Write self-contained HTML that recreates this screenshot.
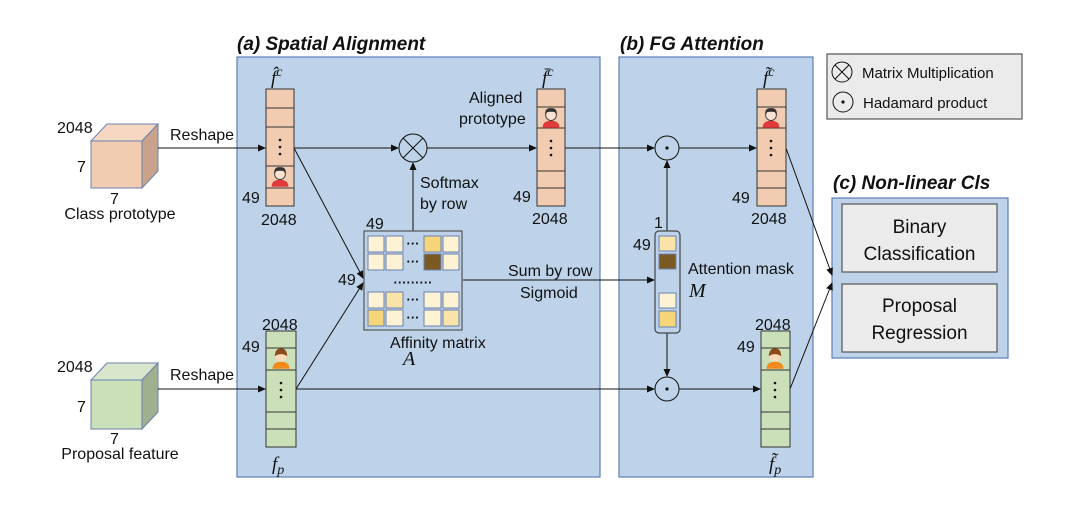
<!DOCTYPE html>
<html><head><meta charset="utf-8"><style>
html,body{margin:0;padding:0;background:#fff;}
svg{display:block;}
text{font-family:"Liberation Sans",sans-serif;fill:#111;}
.m{font-family:"Liberation Serif",serif;font-style:italic;}
</style></head><body>
<svg width="1080" height="516" viewBox="0 0 1080 516" xmlns="http://www.w3.org/2000/svg">
<defs>
<marker id="ar" markerWidth="8" markerHeight="8" refX="7" refY="4" orient="auto" markerUnits="userSpaceOnUse"><path d="M0,0.5 L8,4 L0,7.5 z" fill="#111"/></marker>
<g id="man"><path d="M-6,7 Q-6,2 0,2 Q6,2 6,7z" fill="#e03a3a"/><circle cx="0" cy="-2" r="3.8" fill="#fbe3d3" stroke="#333" stroke-width="0.8"/><path d="M-4.2,-2 Q-4.5,-7.5 0,-7 Q4.5,-7.5 4.2,-2 L3.5,-4 Q0,-5 -3.5,-4z" fill="#333"/></g>
<g id="boy"><path d="M-6,7 Q-6,2 0,2 Q6,2 6,7z" fill="#f08a1c"/><circle cx="0" cy="-2" r="4" fill="#fcd9b8"/><path d="M-4.5,-2 Q-4,-8 0,-7.5 Q4,-8 4.5,-2 Q0,-5 -4.5,-2z" fill="#8b4a1c"/></g>
</defs>

<rect x="237" y="57" width="363" height="420" fill="#bed3e9" stroke="#5b7fb5" stroke-width="1.2"/>
<rect x="619" y="57" width="194" height="420" fill="#bed3e9" stroke="#5b7fb5" stroke-width="1.2"/>
<text x="237" y="50" font-size="19" font-weight="bold" font-style="italic">(a) Spatial Alignment</text>
<text x="620" y="50" font-size="19" font-weight="bold" font-style="italic">(b) FG  Attention</text>

<rect x="827" y="54" width="195" height="65" fill="#ebebeb" stroke="#555" stroke-width="1.2"/>
<circle cx="842" cy="72" r="10" fill="none" stroke="#111" stroke-width="1"/>
<path d="M835,65 L849,79 M849,65 L835,79" stroke="#111" stroke-width="1"/>
<text x="862" y="78" font-size="15">Matrix Multiplication</text>
<circle cx="843" cy="102" r="10" fill="none" stroke="#111" stroke-width="1"/>
<circle cx="843" cy="102" r="1.6" fill="#111"/>
<text x="863" y="108" font-size="15">Hadamard product</text>

<text x="833" y="189" font-size="19" font-weight="bold" font-style="italic">(c) Non-linear Cls</text>
<rect x="832" y="198" width="176" height="160" fill="#bed3e9" stroke="#5b7fb5" stroke-width="1.2"/>
<rect x="842" y="204" width="155" height="68" fill="#ebebeb" stroke="#555" stroke-width="1.2"/>
<text x="919.5" y="233" font-size="19" text-anchor="middle">Binary</text>
<text x="919.5" y="260" font-size="19" text-anchor="middle">Classification</text>
<rect x="842" y="284" width="155" height="68" fill="#ebebeb" stroke="#555" stroke-width="1.2"/>
<text x="919.5" y="312" font-size="19" text-anchor="middle">Proposal</text>
<text x="919.5" y="339" font-size="19" text-anchor="middle">Regression</text>

<g stroke="#6b82b0" stroke-width="1">
<polygon points="91,141 107,124 158,124 142,141" fill="#f6d7c2"/>
<polygon points="142,141 158,124 158,171 142,188" fill="#c8a28a"/>
<rect x="91" y="141" width="51" height="47" fill="#f2ccb0"/>
<polygon points="91,380 107,363 158,363 142,380" fill="#d8e6cc"/>
<polygon points="142,380 158,363 158,412 142,429" fill="#9fb08e"/>
<rect x="91" y="380" width="51" height="49" fill="#cbdfb8"/>
</g>
<g font-size="16">
<text x="57" y="133">2048</text>
<text x="77" y="172">7</text>
<text x="110" y="204">7</text>
<text x="120" y="219" text-anchor="middle">Class prototype</text>
<text x="57" y="372">2048</text>
<text x="77" y="412">7</text>
<text x="110" y="444">7</text>
<text x="120" y="459" text-anchor="middle">Proposal feature</text>
<text x="170" y="140">Reshape</text>
<text x="170" y="380">Reshape</text>
</g>

<g stroke="#111" stroke-width="1" fill="none">
<line x1="158" y1="148" x2="265" y2="148" marker-end="url(#ar)"/>
<line x1="158" y1="389" x2="265" y2="389" marker-end="url(#ar)"/>
<line x1="294" y1="148" x2="398" y2="148" marker-end="url(#ar)"/>
<line x1="427" y1="148" x2="536" y2="148" marker-end="url(#ar)"/>
<line x1="413" y1="231" x2="413" y2="163" marker-end="url(#ar)"/>
<line x1="565" y1="148" x2="654" y2="148" marker-end="url(#ar)"/>
<line x1="679" y1="148" x2="756" y2="148" marker-end="url(#ar)"/>
<line x1="294" y1="148" x2="363" y2="278" marker-end="url(#ar)"/>
<line x1="296" y1="389" x2="363" y2="283" marker-end="url(#ar)"/>
<line x1="296" y1="389" x2="654" y2="389" marker-end="url(#ar)"/>
<line x1="679" y1="389" x2="760" y2="389" marker-end="url(#ar)"/>
<line x1="463" y1="280" x2="654" y2="280" marker-end="url(#ar)"/>
<line x1="667" y1="231" x2="667" y2="161" marker-end="url(#ar)"/>
<line x1="667" y1="333" x2="667" y2="376" marker-end="url(#ar)"/>
<line x1="786" y1="148" x2="832" y2="275" marker-end="url(#ar)"/>
<line x1="790" y1="389" x2="832" y2="283" marker-end="url(#ar)"/>
</g>

<circle cx="413" cy="148" r="14" fill="#bed3e9" stroke="#111" stroke-width="1"/>
<path d="M403,138 L423,158 M423,138 L403,158" stroke="#111" stroke-width="1"/>
<circle cx="667" cy="148" r="12" fill="#bed3e9" stroke="#111" stroke-width="1"/>
<circle cx="667" cy="148" r="1.6" fill="#111"/>
<circle cx="667" cy="389" r="12" fill="#bed3e9" stroke="#111" stroke-width="1"/>
<circle cx="667" cy="389" r="1.6" fill="#111"/>

<g stroke="#333" stroke-width="1">
<rect x="266" y="89" width="28" height="117" fill="#f2ccb0"/>
<path d="M266,108H294M266,127H294M266,166H294M266,188H294"/>
<rect x="537" y="89" width="28" height="117" fill="#f2ccb0"/>
<path d="M537,107H565M537,128H565M537,171H565M537,188H565"/>
<rect x="757" y="89" width="29" height="117" fill="#f2ccb0"/>
<path d="M757,107H786M757,128H786M757,171H786M757,188H786"/>
<rect x="266" y="331" width="30" height="116" fill="#cbdfb8"/>
<path d="M266,348H296M266,370H296M266,412H296M266,429H296"/>
<rect x="761" y="331" width="29" height="116" fill="#cbdfb8"/>
<path d="M761,348H790M761,370H790M761,412H790M761,429H790"/>
</g>
<g transform="translate(280,177) scale(1.4)"><path d="M-6,7 Q-6,2 0,2 Q6,2 6,7z" fill="#e03a3a"/><circle cx="0" cy="-2" r="3.8" fill="#fbe3d3" stroke="#333" stroke-width="0.6"/><path d="M-4.2,-2 Q-4.5,-7.5 0,-7 Q4.5,-7.5 4.2,-2 L3.5,-4 Q0,-5 -3.5,-4z" fill="#333"/></g>
<g transform="translate(551,118) scale(1.4)"><path d="M-6,7 Q-6,2 0,2 Q6,2 6,7z" fill="#e03a3a"/><circle cx="0" cy="-2" r="3.8" fill="#fbe3d3" stroke="#333" stroke-width="0.6"/><path d="M-4.2,-2 Q-4.5,-7.5 0,-7 Q4.5,-7.5 4.2,-2 L3.5,-4 Q0,-5 -3.5,-4z" fill="#333"/></g>
<g transform="translate(771,118) scale(1.4)"><path d="M-6,7 Q-6,2 0,2 Q6,2 6,7z" fill="#e03a3a"/><circle cx="0" cy="-2" r="3.8" fill="#fbe3d3" stroke="#333" stroke-width="0.6"/><path d="M-4.2,-2 Q-4.5,-7.5 0,-7 Q4.5,-7.5 4.2,-2 L3.5,-4 Q0,-5 -3.5,-4z" fill="#333"/></g>
<g transform="translate(281,359) scale(1.4)"><path d="M-6,7 Q-6,2 0,2 Q6,2 6,7z" fill="#f08a1c"/><circle cx="0" cy="-2" r="4" fill="#fcd9b8"/><path d="M-4.5,-2 Q-4,-8 0,-7.5 Q4,-8 4.5,-2 Q0,-5 -4.5,-2z" fill="#8b4a1c"/></g>
<g transform="translate(775,359) scale(1.4)"><path d="M-6,7 Q-6,2 0,2 Q6,2 6,7z" fill="#f08a1c"/><circle cx="0" cy="-2" r="4" fill="#fcd9b8"/><path d="M-4.5,-2 Q-4,-8 0,-7.5 Q4,-8 4.5,-2 Q0,-5 -4.5,-2z" fill="#8b4a1c"/></g>
<g fill="#111">
<circle cx="280" cy="140" r="1.3"/><circle cx="280" cy="147" r="1.3"/><circle cx="280" cy="154" r="1.3"/>
<circle cx="551" cy="141" r="1.3"/><circle cx="551" cy="148" r="1.3"/><circle cx="551" cy="155" r="1.3"/>
<circle cx="771" cy="141" r="1.3"/><circle cx="771" cy="148" r="1.3"/><circle cx="771" cy="155" r="1.3"/>
<circle cx="281" cy="383" r="1.3"/><circle cx="281" cy="390" r="1.3"/><circle cx="281" cy="397" r="1.3"/>
<circle cx="775" cy="383" r="1.3"/><circle cx="775" cy="390" r="1.3"/><circle cx="775" cy="397" r="1.3"/>
<circle cx="666" cy="277" r="1.3"/><circle cx="666" cy="283" r="1.3"/><circle cx="666" cy="289" r="1.3"/>
</g>

<rect x="364" y="231" width="98" height="99" fill="#bed3e9" stroke="#555" stroke-width="1.2"/>
<g stroke="#6b82b0" stroke-width="1">
<rect x="368" y="236" width="16" height="16" fill="#fdf2d4"/><rect x="386" y="236" width="17" height="16" fill="#fdf2d4"/>
<rect x="424" y="236" width="17" height="16" fill="#f6d479"/><rect x="443" y="236" width="16" height="16" fill="#fdf2d4"/>
<rect x="368" y="254" width="16" height="16" fill="#fdf2d4"/><rect x="386" y="254" width="17" height="16" fill="#fdf2d4"/>
<rect x="424" y="254" width="17" height="16" fill="#7a5a22"/><rect x="443" y="254" width="16" height="16" fill="#fdf2d4"/>
<rect x="368" y="292" width="16" height="16" fill="#fdf2d4"/><rect x="386" y="292" width="17" height="16" fill="#fae3a8"/>
<rect x="424" y="292" width="17" height="16" fill="#fdf2d4"/><rect x="443" y="292" width="16" height="16" fill="#fdf2d4"/>
<rect x="368" y="310" width="16" height="16" fill="#f6d479"/><rect x="386" y="310" width="17" height="16" fill="#fdf2d4"/>
<rect x="424" y="310" width="17" height="16" fill="#fdf2d4"/><rect x="443" y="310" width="16" height="16" fill="#fae3a8"/>
</g>
<text x="413" y="248" font-size="13" font-weight="bold" text-anchor="middle">···</text>
<text x="413" y="266" font-size="13" font-weight="bold" text-anchor="middle">···</text>
<text x="413" y="287" font-size="13" font-weight="bold" text-anchor="middle">·········</text>
<text x="413" y="304" font-size="13" font-weight="bold" text-anchor="middle">···</text>
<text x="413" y="322" font-size="13" font-weight="bold" text-anchor="middle">···</text>

<rect x="655" y="231" width="25" height="102" rx="4" fill="#bed3e9" stroke="#444" stroke-width="1.2"/>
<g stroke="#6b82b0" stroke-width="1">
<rect x="659" y="236" width="17" height="15" fill="#fae3a8"/>
<rect x="659" y="254" width="17" height="15" fill="#7a5a22"/>
<rect x="659" y="293" width="17" height="15" fill="#fdf2d4"/>
<rect x="659" y="311" width="17" height="16" fill="#f6d479"/>
</g>

<text x="271" y="84" font-size="19" class="m">f̂<tspan font-size="14" dy="-8">c</tspan></text>
<text x="542" y="84" font-size="19" class="m">f̄<tspan font-size="14" dy="-8">c</tspan></text>
<text x="763" y="84" font-size="19" class="m">f̃<tspan font-size="14" dy="-8">c</tspan></text>
<text x="272" y="470" font-size="19" class="m">f<tspan font-size="14" dy="4">p</tspan></text>
<text x="769" y="470" font-size="19" class="m">f̃<tspan font-size="14" dy="4">p</tspan></text>
<text x="403" y="365" font-size="20" class="m">A</text>
<text x="689" y="297" font-size="20" class="m">M</text>
<g font-size="16">
<text x="242" y="203">49</text>
<text x="261" y="225">2048</text>
<text x="513" y="202">49</text>
<text x="532" y="224">2048</text>
<text x="732" y="203">49</text>
<text x="751" y="224">2048</text>
<text x="242" y="352">49</text>
<text x="262" y="330">2048</text>
<text x="737" y="352">49</text>
<text x="755" y="330">2048</text>
<text x="366" y="229">49</text>
<text x="338" y="285">49</text>
<text x="654" y="228">1</text>
<text x="633" y="250">49</text>
<text x="469" y="103">Aligned</text>
<text x="459" y="124">prototype</text>
<text x="420" y="188">Softmax</text>
<text x="420" y="209">by row</text>
<text x="508" y="276">Sum by row</text>
<text x="520" y="298">Sigmoid</text>
<text x="390" y="348">Affinity matrix</text>
<text x="688" y="274">Attention mask</text>
</g>
</svg>
</body></html>
